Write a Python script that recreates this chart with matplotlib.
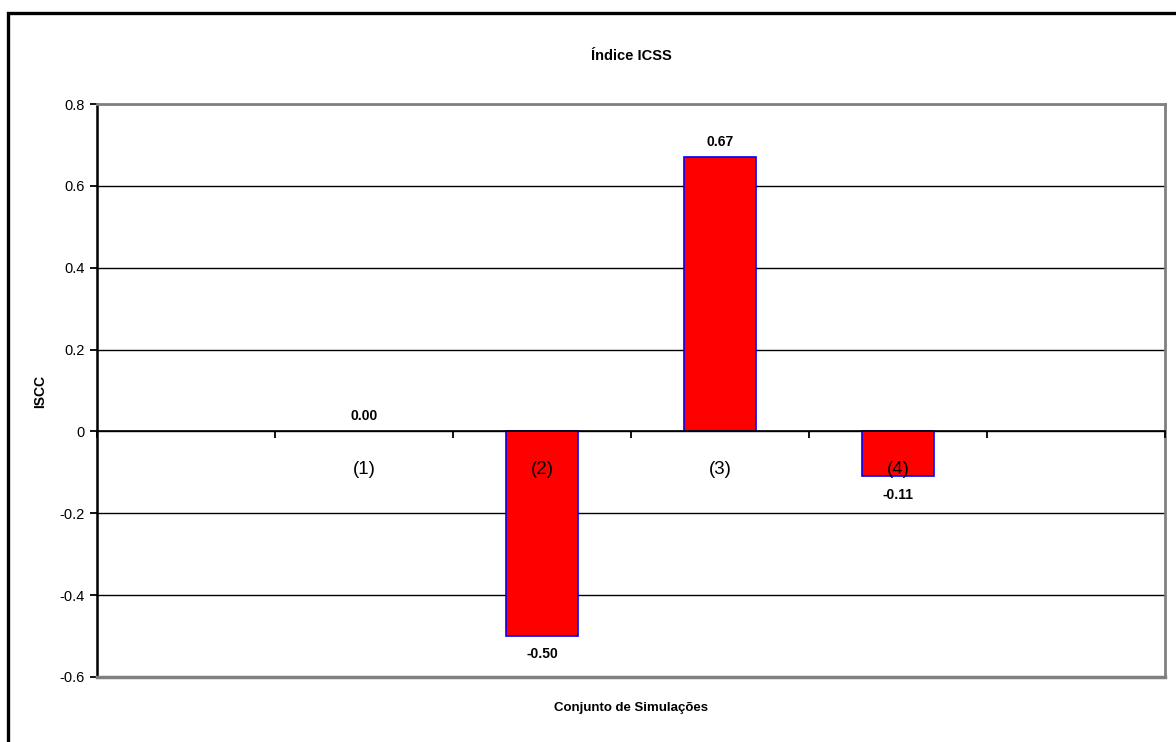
import matplotlib.pyplot as plt
from matplotlib.patches import Rectangle

plt.rcParams['font.family'] = ['Liberation Sans', 'DejaVu Sans']

# ICSS index per simulation set (slots 0 and 5 stay empty)
labels = ['(1)', '(2)', '(3)', '(4)']
values = [0.00, -0.50, 0.67, -0.11]
positions = [1, 2, 3, 4]

fig = plt.figure(figsize=(11.76, 7.42), dpi=100)
W, H = 1176, 742
ax = fig.add_axes([97 / W, 1 - 677 / H, (1165 - 97) / W, (677 - 104) / H])

# outer chart frame (runs past the image at right and bottom)
fig.patches.append(Rectangle((7.5 / W, -0.1), 1.2, 1 - 13 / H + 0.1,
                             transform=fig.transFigure, fill=False,
                             edgecolor='black', linewidth=2.4))

edges = ['#0000ff' if v != 0 else 'none' for v in values]
ax.bar(positions, values, width=0.40, color='#ff0000',
       edgecolor=edges, linewidth=1.2, zorder=2)

for x, v in zip(positions, values):
    if v >= 0:
        ax.annotate(f'{v:.2f}', (x, v), xytext=(0, 6), textcoords='offset points',
                    ha='center', va='bottom', fontsize=10, fontweight='bold')
    else:
        ax.annotate(f'{v:.2f}', (x, v), xytext=(0, -8), textcoords='offset points',
                    ha='center', va='top', fontsize=10, fontweight='bold')

ax.set_xlim(-0.5, 5.5)
ax.set_ylim(-0.6, 0.8)
ax.set_yticks([-0.6, -0.4, -0.2, 0, 0.2, 0.4, 0.6, 0.8])
ax.set_yticklabels(['-0.6', '-0.4', '-0.2', '0', '0.2', '0.4', '0.6', '0.8'])
ax.yaxis.grid(True, color='black', linewidth=1.0)
ax.set_axisbelow(True)

ax.set_xticks(positions)
ax.set_xticklabels(labels)
ax.set_xticks([i + 0.5 for i in range(-1, 6)], minor=True)
ax.tick_params(axis='x', which='major', length=0, pad=21, labelsize=13.5)
ax.tick_params(axis='x', which='minor', length=5, width=1.3, direction='out')
ax.tick_params(axis='y', length=5, width=1.3, labelsize=10.5, pad=4)
ax.xaxis.set_zorder(3)

ax.spines['bottom'].set_position(('data', 0))
ax.spines['bottom'].set_color('black')
ax.spines['bottom'].set_linewidth(1.2)
ax.spines['bottom'].set_zorder(3)
ax.spines['left'].set_color('black')
ax.spines['left'].set_linewidth(1.8)
for s in ['top', 'right']:
    ax.spines[s].set_color('#808080')
    ax.spines[s].set_linewidth(2)
ax.axhline(-0.6, color='#808080', linewidth=2.5, clip_on=False, zorder=4)

fig.text(631 / W, 1 - 56 / H, 'Índice ICSS', ha='center', va='center',
         fontsize=10.5, fontweight='bold')
fig.text(631 / W, 1 - 708 / H, 'Conjunto de Simulações', ha='center', va='center',
         fontsize=9.5, fontweight='bold')
fig.text(40 / W, 1 - 392 / H, 'ISCC', ha='center', va='center', rotation=90,
         fontsize=10, fontweight='bold')

fig.savefig('out.png', dpi=100)
